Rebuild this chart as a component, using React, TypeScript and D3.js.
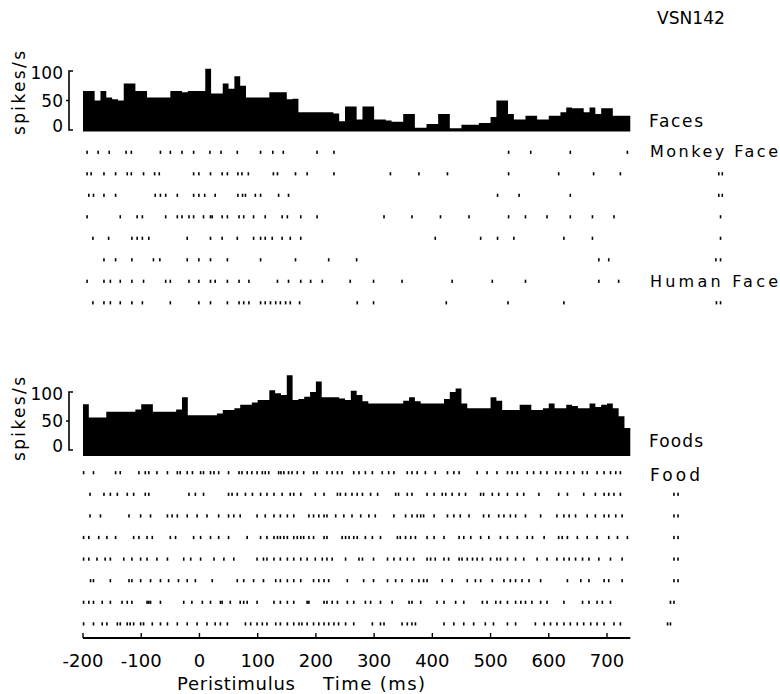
import React from 'react';
import * as d3 from 'd3';

// ---------- data ----------
const binStart = -200;
const binWidth = 10;

// Faces PSTH (spikes/s), 10 ms bins from -200 ms
const facesRate = [
  66, 66, 50, 66, 55, 52, 50, 79, 79, 66,
  66, 55, 55, 55, 55, 66, 66, 64, 66, 66,
  66, 104, 62, 62, 79, 70, 91, 75, 55, 55,
  55, 55, 64, 64, 64, 52, 53, 30, 30, 30,
  30, 30, 30, 28, 15, 40, 40, 18, 40, 40,
  18, 18, 16, 14, 14, 27, 27, 4, 4, 10,
  10, 27, 27, 3, 3, 9, 9, 9, 12, 12,
  22, 50, 50, 27, 18, 18, 24, 24, 18, 18,
  24, 24, 30, 38, 37, 37, 30, 38, 27, 37,
  37, 24, 24, 24,
];

// Foods PSTH (spikes/s), 10 ms bins from -200 ms
const foodsRate = [
  79, 56, 56, 56, 66, 66, 66, 66, 66, 70,
  79, 79, 66, 66, 66, 66, 70, 91, 60, 60,
  60, 60, 60, 63, 69, 69, 72, 78, 78, 82,
  86, 86, 103, 98, 95, 129, 86, 88, 92, 100,
  118, 91, 91, 91, 89, 86, 102, 95, 84, 80,
  80, 80, 80, 80, 80, 85, 91, 84, 80, 80,
  80, 80, 88, 100, 106, 80, 72, 72, 72, 72,
  91, 85, 69, 69, 69, 78, 78, 69, 69, 72,
  80, 72, 72, 78, 76, 72, 72, 80, 74, 78,
  80, 72, 58, 38,
];

// spike times (ms) per trial
const faceTrials = [
  [-193, -174, -155, -126, -117, -67, -50, -30, -10, 18, 37, 65, 105, 126, 144, 202, 231, 531, 569, 637, 735],
  [-193, -186, -164, -144, -124, -117, -96, -77, -69, -10, -1, 19, 39, 48, 66, 73, 84, 127, 134, 165, 185, 231, 328, 377, 426, 531, 617, 677, 723, 892, 898],
  [-190, -182, -164, -144, -76, -67, -58, -38, -10, -1, 9, 27, 66, 74, 79, 96, 105, 136, 153, 512, 549, 637, 892, 898],
  [-193, -136, -107, -98, -58, -38, -30, -18, -10, 7, 19, 22, 39, 48, 68, 76, 93, 113, 142, 151, 174, 202, 317, 365, 414, 463, 531, 560, 597, 637, 675, 712, 895],
  [-183, -156, -116, -107, -98, -87, -21, 19, 39, 65, 93, 105, 113, 125, 142, 156, 174, 405, 483, 512, 540, 626, 675, 895],
  [-164, -144, -116, -79, -68, -21, -1, 19, 48, 105, 165, 222, 270, 686, 703, 887, 895],
  [-193, -164, -153, -136, -116, -96, -58, -50, -18, -1, 19, 27, 48, 68, 85, 134, 153, 174, 191, 211, 259, 299, 348, 434, 503, 560, 686, 720],
  [-183, -164, -153, -136, -116, -98, -50, -1, 19, 48, 68, 76, 85, 105, 113, 122, 131, 139, 148, 156, 172, 271, 299, 424, 530, 626, 888, 895],
];

const foodTrials = [
  [-199, -182, -144, -136, -104, -93, -87, -73, -55, -38, -33, -21, -12, 2, 7, 19, 25, 33, 50, 68, 73, 82, 90, 99, 108, 113, 119, 136, 140, 145, 153, 159, 168, 179, 196, 202, 219, 228, 237, 245, 265, 274, 285, 297, 314, 325, 334, 357, 365, 374, 388, 405, 426, 437, 446, 477, 494, 511, 529, 537, 546, 563, 574, 586, 597, 612, 620, 632, 643, 658, 666, 683, 695, 706, 715, 723],
  [-188, -164, -153, -141, -124, -113, -93, -87, -18, -7, 7, 50, 56, 65, 79, 91, 105, 116, 128, 142, 156, 162, 174, 199, 214, 237, 242, 251, 262, 271, 280, 294, 306, 337, 342, 357, 365, 391, 403, 417, 423, 434, 446, 457, 483, 488, 503, 514, 529, 546, 557, 583, 617, 632, 660, 680, 695, 703, 712, 723, 815, 822],
  [-188, -170, -121, -101, -84, -55, -47, -38, -21, -4, 13, 33, 50, 59, 70, 99, 113, 128, 139, 151, 162, 188, 196, 205, 214, 219, 234, 248, 262, 277, 291, 302, 334, 354, 365, 374, 380, 385, 403, 426, 437, 448, 463, 488, 497, 514, 523, 534, 543, 560, 586, 614, 626, 635, 646, 666, 680, 695, 703, 715, 726, 815, 822],
  [-199, -190, -173, -159, -144, -113, -104, -90, -81, -50, -41, -10, 2, 19, 33, 50, 82, 105, 116, 128, 134, 139, 145, 151, 162, 168, 174, 179, 188, 196, 214, 219, 245, 251, 257, 265, 271, 285, 297, 311, 340, 345, 354, 363, 371, 391, 403, 420, 446, 454, 466, 483, 497, 517, 529, 546, 563, 572, 592, 617, 623, 632, 649, 666, 683, 703, 718, 735, 815, 822],
  [-199, -190, -176, -162, -153, -130, -116, -101, -90, -73, -55, -27, -15, 2, 25, 42, 59, 99, 110, 116, 128, 139, 151, 162, 174, 185, 199, 211, 219, 228, 251, 274, 280, 299, 323, 334, 345, 357, 368, 391, 397, 405, 420, 428, 446, 451, 460, 469, 477, 486, 500, 511, 517, 529, 543, 557, 580, 597, 614, 626, 635, 646, 658, 669, 686, 706, 726, 815, 822],
  [-187, -182, -153, -121, -116, -101, -84, -67, -53, -36, -21, -7, 22, 65, 76, 93, 110, 131, 139, 151, 162, 174, 196, 205, 214, 222, 254, 282, 299, 323, 337, 348, 365, 377, 385, 391, 417, 434, 460, 474, 483, 503, 523, 534, 543, 554, 566, 586, 632, 655, 669, 695, 703, 726, 815, 822],
  [-199, -190, -182, -167, -153, -133, -124, -116, -90, -87, -84, -67, -27, -13, 5, 19, 36, 39, 53, 70, 76, 82, 99, 128, 139, 151, 162, 185, 188, 214, 219, 228, 237, 254, 265, 285, 294, 311, 331, 360, 365, 380, 408, 420, 440, 454, 486, 494, 509, 517, 529, 543, 552, 560, 571, 586, 597, 626, 658, 669, 683, 692, 706, 809, 815],
  [-199, -182, -167, -159, -141, -136, -124, -119, -113, -101, -96, -81, -67, -55, -38, -21, -4, 13, 27, 36, 48, 79, 88, 99, 108, 116, 131, 139, 151, 162, 171, 176, 185, 196, 205, 214, 222, 231, 239, 251, 265, 297, 311, 317, 348, 357, 365, 371, 420, 437, 454, 471, 491, 505, 529, 543, 577, 592, 603, 614, 626, 637, 649, 660, 672, 683, 695, 712, 723, 804, 809],
];

const xTicks = [-200, -100, 0, 100, 200, 300, 400, 500, 600, 700];
const yTicks = [0, 50, 100];
const axisEnd = 740;

const FONT = "'DejaVu Sans', sans-serif";

export default function App() {
  const x = d3.scaleLinear().domain([-200, 700]).range([83, 607]);
  const yTop = d3.scaleLinear().domain([0, 100]).range([130, 71]);
  const yBot = d3.scaleLinear().domain([0, 100]).range([450, 392]);

  const histPath = (rates: number[], y: d3.ScaleLinear<number, number>, extra: number) => {
    const pts = rates.map((v, i) => ({ t: binStart + i * binWidth, v }));
    pts.push({ t: binStart + rates.length * binWidth, v: rates[rates.length - 1] });
    return d3
      .area<{ t: number; v: number }>()
      .x((d) => x(d.t))
      .y0(y(0) + extra)
      .y1((d) => y(d.v))
      .curve(d3.curveStepAfter)(pts) as string;
  };

  const yAxis = (y: d3.ScaleLinear<number, number>, key: string) => (
    <g key={key}>
      <path
        d={`M73,${y(100)}H69V${y(0)}H73M69,${y(50)}H66`}
        fill="none"
        stroke="#000"
        strokeWidth={1.6}
      />
      {yTicks.map((v) => (
        <text
          key={v}
          x={63}
          y={y(v) + (v === 0 ? -4 : v === 100 ? 2 : 0)}
          dy="0.36em"
          textAnchor="end"
          fontSize={17}
          fontFamily={FONT}
        >
          {v}
        </text>
      ))}
    </g>
  );

  const raster = (trials: number[][], y0: number, step: number, key: string) => (
    <g key={key}>
      {trials.map((row, r) =>
        row.map((t, i) => (
          <rect
            key={`${r}-${i}`}
            x={x(t) - 0.8}
            y={y0 + r * step - 1.6}
            width={1.6}
            height={3.2}
            fill="#000"
          />
        ))
      )}
    </g>
  );

  return (
    <svg
      width={780}
      height={694}
      style={{ position: 'absolute', left: 0, top: 0, background: '#fff' }}
    >
      <rect width={780} height={694} fill="#fff" />
      <text x={657} y={24} fontSize={17} fontFamily={FONT} textLength={68} lengthAdjust="spacingAndGlyphs">
        VSN142
      </text>

      {/* top panel */}
      <path d={histPath(facesRate, yTop, 1.5)} fill="#000" />
      {yAxis(yTop, 'ytop')}
      <text transform="translate(25,93) rotate(-90)" textAnchor="middle" fontSize={17} fontFamily={FONT} textLength={84} lengthAdjust="spacing">
        spikes/s
      </text>
      <text x={649} y={127} fontSize={17} fontFamily={FONT} textLength={54} lengthAdjust="spacing">Faces</text>
      <text x={650} y={157} fontSize={16} fontFamily={FONT} textLength={128} lengthAdjust="spacing">Monkey Face</text>
      <text x={650} y={287} fontSize={16} fontFamily={FONT} textLength={128} lengthAdjust="spacing">Human Face</text>
      {raster(faceTrials, 152.3, 21.5, 'rtop')}

      {/* bottom panel */}
      <path d={histPath(foodsRate, yBot, 6)} fill="#000" />
      {yAxis(yBot, 'ybot')}
      <text transform="translate(25,419) rotate(-90)" textAnchor="middle" fontSize={17} fontFamily={FONT} textLength={84} lengthAdjust="spacing">
        spikes/s
      </text>
      <text x={649} y={447} fontSize={17} fontFamily={FONT} textLength={54} lengthAdjust="spacing">Foods</text>
      <text x={650} y={481} fontSize={17} fontFamily={FONT} textLength={50} lengthAdjust="spacing">Food</text>
      {raster(foodTrials, 472.7, 21.6, 'rbot')}

      {/* x axis */}
      <line x1={x(-200)} x2={x(axisEnd)} y1={638} y2={638} stroke="#000" strokeWidth={1.8} />
      {xTicks.map((t) => (
        <g key={t}>
          <line x1={x(t)} x2={x(t)} y1={638} y2={633} stroke="#000" strokeWidth={1.4} />
          <text x={x(t)} y={667} textAnchor="middle" fontSize={18} fontFamily={FONT}>
            {t}
          </text>
        </g>
      ))}
      <text x={177} y={690} fontSize={18} fontFamily={FONT} textLength={118} lengthAdjust="spacing">Peristimulus</text>
      <text x={323} y={690} fontSize={18} fontFamily={FONT} textLength={102} lengthAdjust="spacing">Time (ms)</text>
    </svg>
  );
}
